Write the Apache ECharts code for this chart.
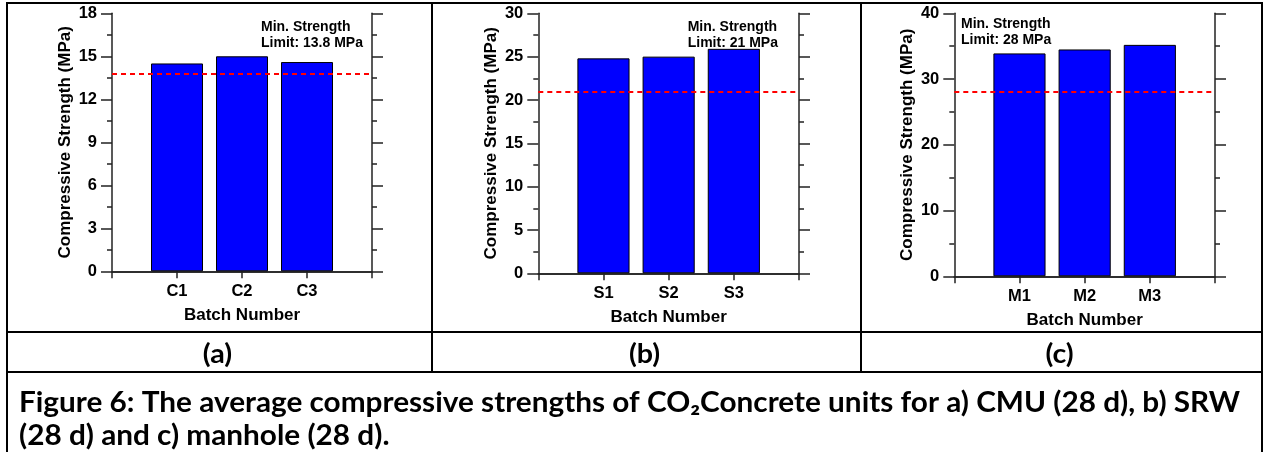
<!DOCTYPE html>
<html><head><meta charset="utf-8">
<script src="https://cdn.jsdelivr.net/npm/echarts@6/dist/echarts.min.js"></script>
<style>html,body{margin:0;padding:0;background:#fff}#c{width:1265px;height:452px}</style>
</head><body><div id="c"></div>
<script>
// ---- data ----
const categoriesA = ['C1', 'C2', 'C3'];
const valuesA = [14.5, 15.0, 14.6];
const limitA = 13.8;
const yTicksA = [0, 3, 6, 9, 12, 15, 18];

const categoriesB = ['S1', 'S2', 'S3'];
const valuesB = [24.8, 25.0, 25.9];
const limitB = 21;
const yTicksB = [0, 5, 10, 15, 20, 25, 30];

const categoriesC = ['M1', 'M2', 'M3'];
const valuesC = [33.9, 34.5, 35.2];
const limitC = 28;
const yTicksC = [0, 10, 20, 30, 40];

const panelLabels = ['(a)', '(b)', '(c)'];
const yTitle = 'Compressive Strength (MPa)';
const xTitle = 'Batch Number';
const captionLines = [
  'Figure 6: The average compressive strengths of CO\u2082Concrete units for a) CMU (28 d), b) SRW',
  '(28 d) and c) manhole (28 d).'
];

// ---- layout ----
const FONT = '"Liberation Sans", Arial, sans-serif';
const CAP_FONT = 'Lato, sans-serif';
const CAP_FONT_FULL = 'bold 28px ' + CAP_FONT;
const LBL_FONT_FULL = 'bold 27px ' + CAP_FONT;
const AX = '#222';
const panels = [
  {cats: categoriesA, vals: valuesA, limit: limitA, ticks: yTicksA, grid: {left: 112, top: 13.3, width: 260, height: 258}, note: [261, 19]},
  {cats: categoriesB, vals: valuesB, limit: limitB, ticks: yTicksB, grid: {left: 538.3, top: 13.3, width: 260.7, height: 260}, note: [687.7, 19]},
  {cats: categoriesC, vals: valuesC, limit: limitC, ticks: yTicksC, grid: {left: 954.3, top: 13.3, width: 260.7, height: 263}, note: [961, 16.5]}
];

const grids = [], xAxes = [], yAxes = [], series = [], graphics = [];
panels.forEach((p, i) => {
  grids.push(Object.assign({containLabel: false}, p.grid));
  const axisData = [''].concat(p.cats, ['']);
  const yMin = p.ticks[0], yMax = p.ticks[p.ticks.length - 1], yInt = p.ticks[1] - p.ticks[0];
  xAxes.push({
    type: 'category', gridIndex: i, data: axisData, boundaryGap: false, position: 'bottom',
    axisLine: {show: true, lineStyle: {color: AX, width: 1.5}},
    axisTick: {show: true, length: 7, inside: false, lineStyle: {color: AX, width: 1.5}},
    axisLabel: {show: true, margin: 12, color: '#000', fontFamily: FONT, fontWeight: 'bold', fontSize: 16.5},
    splitLine: {show: false},
    name: xTitle, nameLocation: 'middle', nameGap: 36,
    nameTextStyle: {color: '#000', fontFamily: FONT, fontWeight: 'bold', fontSize: 17}
  });
  xAxes.push({
    type: 'category', gridIndex: i, data: axisData, boundaryGap: false, position: 'top',
    axisLine: {show: true, lineStyle: {color: AX, width: 1.5}},
    axisTick: {show: false}, axisLabel: {show: false}, splitLine: {show: false}
  });
  const yBase = {
    type: 'value', gridIndex: i, min: yMin, max: yMax, interval: yInt,
    axisLine: {show: true, lineStyle: {color: AX, width: 1.5}},
    axisTick: {show: true, length: 11, inside: false, lineStyle: {color: AX, width: 1.5}},
    minorTick: {show: true, splitNumber: 2, length: 5, lineStyle: {color: AX, width: 1.5}},
    splitLine: {show: false}, minorSplitLine: {show: false}
  };
  yAxes.push(Object.assign({}, yBase, {
    position: 'left',
    axisLabel: {show: true, margin: 15, color: '#000', fontFamily: FONT, fontWeight: 'bold', fontSize: 16.5},
    name: yTitle, nameLocation: 'middle', nameGap: 38, nameRotate: 90,
    nameTextStyle: {color: '#000', fontFamily: FONT, fontWeight: 'bold', fontSize: 17}
  }));
  yAxes.push(Object.assign({}, yBase, {position: 'right', axisLabel: {show: false}}));
  series.push({
    type: 'bar', xAxisIndex: 2 * i, yAxisIndex: 2 * i,
    data: ['-'].concat(p.vals, ['-']),
    barWidth: '80%',
    itemStyle: {color: '#0000ff', borderColor: '#000', borderWidth: 1},
    markLine: {
      silent: true, symbol: ['none', 'none'], label: {show: false},
      lineStyle: {color: '#ff0000', type: [5, 4], width: 2},
      data: [{yAxis: p.limit}]
    }
  });
  graphics.push({
    type: 'text', left: p.note[0], top: p.note[1], silent: true,
    style: {text: 'Min. Strength\nLimit: ' + p.limit + ' MPa', fill: '#000',
      font: 'bold 14px ' + FONT, lineHeight: 16}
  });
});

// table lines
const L = 7, R = 1262, T = 3, B = 452, row1 = 332, row2 = 372, v1 = 432, v2 = 861;
const seg = (x1, y1, x2, y2) => ({type: 'line', silent: true, shape: {x1, y1, x2, y2},
  style: {stroke: '#000', lineWidth: 2}});
graphics.push(seg(L - 1, T, R + 1, T), seg(L, T, L, B), seg(R, T, R, B),
  seg(L, row1, R, row1), seg(L, row2, R, row2), seg(v1, T, v1, row2), seg(v2, T, v2, row2));

// horizontal stretch of the caption text to match the reference's wide lettering
const mctx = document.createElement('canvas').getContext('2d');
mctx.font = CAP_FONT_FULL;
const capScale = 1221 / mctx.measureText(captionLines[0]).width;

// panel labels
const cellCenters = [(L + v1) / 2, (v1 + v2) / 2, (v2 + R) / 2];
panelLabels.forEach((t, i) => {
  graphics.push({type: 'text', silent: true, x: cellCenters[i] - 2, y: 354, scaleX: capScale,
    style: {text: t, fill: '#000', font: LBL_FONT_FULL, align: 'center', verticalAlign: 'middle'}});
});
// caption
captionLines.forEach((t, i) => {
  graphics.push({type: 'text', silent: true, x: 19, y: 403 + i * 33, scaleX: capScale,
    style: {text: t, fill: '#000', font: CAP_FONT_FULL, align: 'left', verticalAlign: 'middle'}});
});

const chart = echarts.init(document.getElementById('c'), null, {renderer: 'canvas'});
chart.setOption({
  animation: false, backgroundColor: '#fff',
  grid: grids, xAxis: xAxes, yAxis: yAxes, series: series, graphic: graphics
});
</script></body></html>
